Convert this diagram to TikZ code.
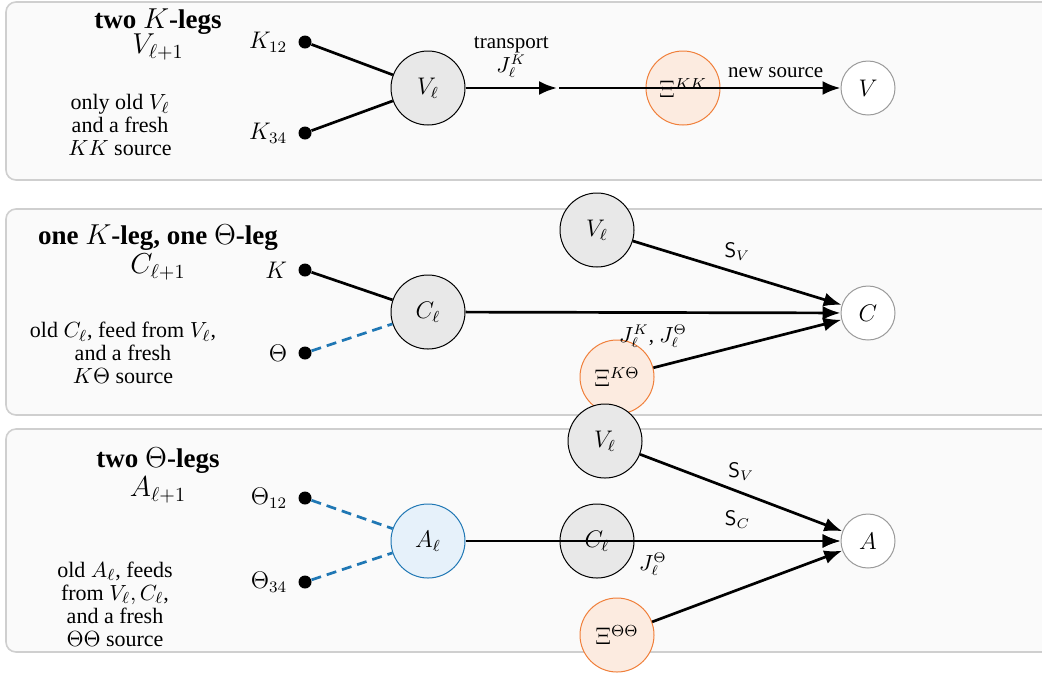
\documentclass[tikz,border=0pt]{standalone}
\usepackage{fontspec}
\setmainfont{Liberation Serif}
\usetikzlibrary{arrows.meta}
\definecolor{panelfill}{HTML}{FAFAFA}
\definecolor{panelline}{HTML}{CFCFCF}
\definecolor{oldfill}{HTML}{E8E8E8}
\definecolor{srcline}{HTML}{F07F3A}
\definecolor{srcfill}{HTML}{FCEBE0}
\definecolor{thblue}{HTML}{1F77B4}
\definecolor{thfill}{HTML}{E6F1FA}
\definecolor{outline}{HTML}{9A9A9A}
\begin{document}
\begin{tikzpicture}[x=0.5pt,y=-0.5pt,
  panel/.style={draw=panelline, fill=panelfill, rounded corners=5pt, line width=0.8pt},
  old/.style={circle, draw=black, fill=oldfill, minimum size=37pt, inner sep=0pt, line width=0.5pt, font=\fontsize{11.5}{13}\selectfont},
  src/.style={circle, draw=srcline, fill=srcfill, minimum size=37pt, inner sep=0pt, line width=0.5pt, font=\fontsize{11.5}{13}\selectfont},
  thold/.style={circle, draw=thblue, fill=thfill, minimum size=37pt, inner sep=0pt, line width=0.5pt, font=\fontsize{11.5}{13}\selectfont},
  target/.style={circle, draw=outline, fill=white, minimum size=27pt, inner sep=0pt, line width=0.5pt, font=\fontsize{11.5}{13}\selectfont},
  leg/.style={circle, fill=black, inner sep=0pt, minimum size=6.5pt,
    label={[font=\fontsize{11.5}{13}\selectfont, label distance=2pt]left:#1}},
  kleg/.style={line width=1.35pt},
  thleg/.style={line width=1.35pt, draw=thblue, dash pattern=on 5pt off 3pt},
  flow/.style={line width=1.35pt, -{Latex[length=9pt,width=7pt]}},
  heading/.style={font=\bfseries\fontsize{13.5}{15}\selectfont},
  sub/.style={font=\fontsize{14}{15}\selectfont},
  note/.style={align=center, font=\fontsize{11}{11.5}\selectfont},
  lbl/.style={font=\fontsize{10.5}{10.5}\selectfont, align=center},
]
\useasboundingbox (0,0) rectangle (1042,676);

% ---------- two K-legs ----------
\path[panel] (6,2) rectangle (1070,180);
\node[heading] (h1) at (158,22) {two $K$-legs};
\node[sub] (h1m) at (158,47) {$V_{\ell+1}$};
\node[note] (n1) at (120,125) {only old $V_\ell$\\and a fresh\\$KK$ source};
\node[leg=$K_{12}$] (k12) at (305,42) {};
\node[leg=$K_{34}$] (k34) at (305,133) {};
\node[old] (Vl1) at (428,88) {$V_\ell$};
\node[src] (Xkk) at (683,88) {$\Xi^{KK}$};
\node[target] (V) at (868,88) {$V$};
\coordinate (t1) at (557,88);
\draw[kleg] (k12) -- (Vl1);
\draw[kleg] (k34) -- (Vl1);
\draw[flow] (Vl1) -- node[lbl, above=1pt] {transport\\$J^K_\ell$} (t1);
\draw[flow] ([xshift=1pt]t1) -- node[lbl, pos=0.77, above=1pt] {new source} (V);

% ---------- one K-leg, one Theta-leg ----------
\path[panel] (6,209) rectangle (1070,415);
\node[heading] (h2) at (158,238) {one $K$-leg, one $\Theta$-leg};
\node[sub] (h2m) at (158,267) {$C_{\ell+1}$};
\node[note] (n2) at (123,353) {old $C_\ell$, feed from $V_\ell$,\\and a fresh\\$K\Theta$ source};
\node[leg=$K$] (k2) at (305,270) {};
\node[leg=$\Theta$] (th2) at (305,353) {};
\node[old] (Cl2) at (428,312) {$C_\ell$};
\node[old] (Vl2) at (597,230) {$V_\ell$};
\node[src] (Xkt) at (617,377) {$\Xi^{K\Theta}$};
\node[target] (C) at (868,313) {$C$};
\draw[kleg] (k2) -- (Cl2);
\draw[thleg] (th2) -- (Cl2);
\draw[flow] (Vl2) -- node[lbl, above=2pt] {$\mathsf{S}_V$} (C);
\draw[flow] (Cl2) -- node[lbl, below=2pt] {$J^K_\ell$, $J^\Theta_\ell$} (C);
\draw[flow] (Xkt) -- (C);

% ---------- two Theta-legs ----------
\path[panel] (6,429) rectangle (1070,652);
\node[heading] (h3) at (158,461) {two $\Theta$-legs};
\node[sub] (h3m) at (158,490) {$A_{\ell+1}$};
\node[note] (n3) at (115,604) {old $A_\ell$, feeds\\from $V_\ell, C_\ell$,\\and a fresh\\$\Theta\Theta$ source};
\node[leg=$\Theta_{12}$] (th12) at (305,498) {};
\node[leg=$\Theta_{34}$] (th34) at (305,582) {};
\node[thold] (Al) at (428,541) {$A_\ell$};
\node[old] (Vl3) at (605,441) {$V_\ell$};
\node[old] (Cl3) at (597,541) {$C_\ell$};
\node[src] (Xtt) at (617,635) {$\Xi^{\Theta\Theta}$};
\node[target] (A) at (868,541) {$A$};
\draw[thleg] (th12) -- (Al);
\draw[thleg] (th34) -- (Al);
\draw[flow] (Vl3) -- node[lbl, above=2pt] {$\mathsf{S}_V$} (A);
\draw[flow] (Cl3) -- node[lbl, above=2pt] {$\mathsf{S}_C$} (A);
\draw[flow] (Al) -- node[lbl, below=2pt] {$J^\Theta_\ell$} (A);
\draw[flow] (Xtt) -- (A);
\end{tikzpicture}
\end{document}
